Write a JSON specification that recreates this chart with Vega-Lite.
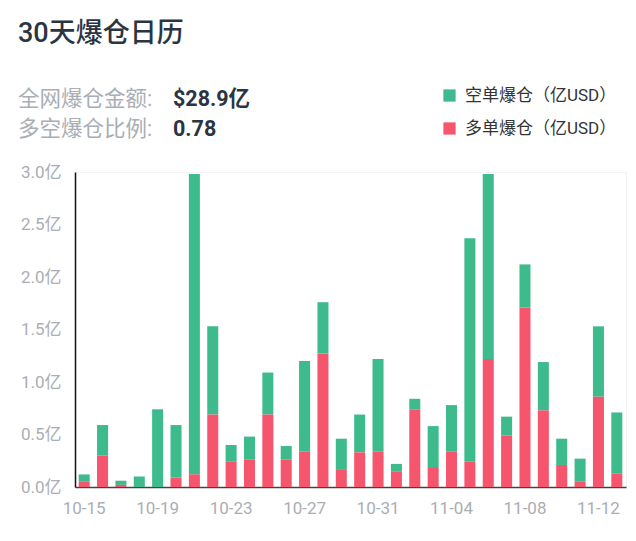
{
  "$schema": "https://vega.github.io/schema/vega-lite/v6.json",
  "background": "white",
  "padding": {"left": 18, "top": 20, "right": 8, "bottom": 10},
  "title": {
    "text": "30天爆仓日历",
    "anchor": "start",
    "font": "Roboto, Noto Sans CJK SC",
    "fontSize": 27,
    "fontWeight": 500,
    "color": "#2b3542",
    "offset": 37
  },
  "spacing": 17,
  "vconcat": [
    {
      "width": 551,
      "height": 60,
      "view": {"stroke": null},
      "data": {
        "values": [
          {"row": 1, "label": "全网爆仓金额:", "amount": "$28.9亿"},
          {"row": 2, "label": "多空爆仓比例:", "amount": "0.78"}
        ]
      },
      "transform": [{"fold": ["label", "amount"], "as": ["col", "txt"]}],
      "encoding": {
        "x": {"field": "col", "type": "nominal", "axis": null,
              "scale": {"type": "point", "domain": ["label", "amount"], "range": [-57, 98], "padding": 0}},
        "y": {"field": "row", "type": "ordinal", "axis": null},
        "text": {"field": "txt"}
      },
      "layer": [
        {
          "transform": [{"filter": "datum.col === 'label'"}],
          "mark": {"type": "text", "align": "left", "baseline": "middle", "fontSize": 21.5,
                   "font": "Roboto, Noto Sans CJK SC", "color": "#a9aeb4"}
        },
        {
          "transform": [{"filter": "datum.col === 'amount'"}],
          "mark": {"type": "text", "align": "left", "baseline": "middle", "fontSize": 21.5,
                   "fontWeight": "bold", "font": "Roboto, Noto Sans CJK SC", "color": "#2b3542"}
        }
      ]
    },
    {
      "width": 551,
      "height": 315,
      "view": {"stroke": "#f3f3f3"},
      "data": {
        "values": [
          {"date": "10-15", "空单": 0.07, "多单": 0.05},
          {"date": "10-16", "空单": 0.29, "多单": 0.30},
          {"date": "10-17", "空单": 0.04, "多单": 0.02},
          {"date": "10-18", "空单": 0.10, "多单": 0.0},
          {"date": "10-19", "空单": 0.74, "多单": 0.0},
          {"date": "10-20", "空单": 0.50, "多单": 0.09},
          {"date": "10-21", "空单": 2.86, "多单": 0.12},
          {"date": "10-22", "空单": 0.84, "多单": 0.69},
          {"date": "10-23", "空单": 0.16, "多单": 0.24},
          {"date": "10-24", "空单": 0.22, "多单": 0.26},
          {"date": "10-25", "空单": 0.40, "多单": 0.69},
          {"date": "10-26", "空单": 0.13, "多单": 0.26},
          {"date": "10-27", "空单": 0.86, "多单": 0.34},
          {"date": "10-28", "空单": 0.49, "多单": 1.27},
          {"date": "10-29", "空单": 0.29, "多单": 0.17},
          {"date": "10-30", "空单": 0.36, "多单": 0.33},
          {"date": "10-31", "空单": 0.88, "多单": 0.34},
          {"date": "11-01", "空单": 0.07, "多单": 0.15},
          {"date": "11-02", "空单": 0.10, "多单": 0.74},
          {"date": "11-03", "空单": 0.39, "多单": 0.19},
          {"date": "11-04", "空单": 0.44, "多单": 0.34},
          {"date": "11-05", "空单": 2.13, "多单": 0.24},
          {"date": "11-06", "空单": 1.76, "多单": 1.22},
          {"date": "11-07", "空单": 0.18, "多单": 0.49},
          {"date": "11-08", "空单": 0.41, "多单": 1.71},
          {"date": "11-09", "空单": 0.46, "多单": 0.73},
          {"date": "11-10", "空单": 0.25, "多单": 0.21},
          {"date": "11-11", "空单": 0.22, "多单": 0.05},
          {"date": "11-12", "空单": 0.67, "多单": 0.86},
          {"date": "11-13", "空单": 0.58, "多单": 0.13}
        ]
      },
      "transform": [{"fold": ["空单", "多单"], "as": ["type", "value"]}],
      "mark": {"type": "bar"},
      "encoding": {
        "x": {
          "field": "date", "type": "ordinal",
          "scale": {"paddingInner": 0.4, "paddingOuter": 0.2},
          "axis": {
            "title": null, "values": ["10-15", "10-19", "10-23", "10-27", "10-31", "11-04", "11-08", "11-12"],
            "labelAngle": 0, "ticks": false, "labelPadding": 13, "labelFontSize": 17,
            "labelColor": "#a9aeb4", "labelFont": "Roboto, Noto Sans CJK SC",
            "domainColor": "#444444", "domainWidth": 1.5
          }
        },
        "y": {
          "field": "value", "type": "quantitative", "stack": "zero",
          "scale": {"domain": [0, 3], "nice": false},
          "axis": {
            "title": null, "values": [0, 0.5, 1, 1.5, 2, 2.5, 3], "grid": false, "ticks": false,
            "labelExpr": "format(datum.value, '.1f') + '亿'", "labelPadding": 14, "labelFontSize": 17,
            "labelColor": "#a9aeb4", "labelFont": "Roboto, Noto Sans CJK SC",
            "domainColor": "#111111", "domainWidth": 1.5
          }
        },
        "color": {
          "field": "type", "type": "nominal",
          "scale": {"domain": ["空单", "多单"], "range": ["#3dbb8c", "#f5556d"]},
          "legend": {
            "title": null, "orient": "none", "legendX": 366, "legendY": 2,
            "symbolType": "square", "symbolSize": 150, "symbolStrokeWidth": 0,
            "labelExpr": "datum.label + '爆仓（亿USD）'", "labelFontSize": 17, "labelLimit": 250,
            "labelColor": "#333333", "labelFont": "Roboto, Noto Sans CJK SC",
            "rowPadding": 15, "labelOffset": 7
          }
        },
        "order": {"field": "type", "sort": "ascending"}
      }
    }
  ]
}
